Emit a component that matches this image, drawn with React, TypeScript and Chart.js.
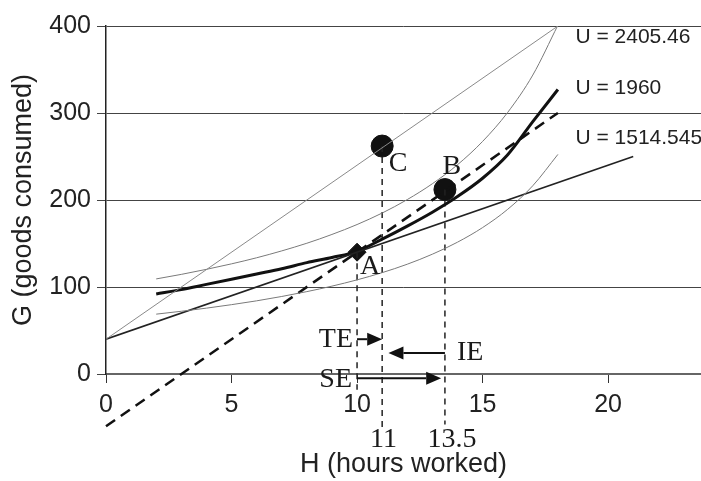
import React, { useEffect, useRef } from "react";
import { Chart, registerables } from "chart.js";

Chart.register(...registerables);

// Hours (H) at which the indifference curves are read
const hoursIC = [2, 3, 4, 5, 6, 7, 8, 9, 10, 11, 12, 13, 14, 15, 16, 17, 18];
// Indifference curves (G values)
const icHigh = [109.3, 114.5, 120.3, 126.6, 133.6, 141.5, 150.3, 160.4, 171.8, 185.0, 200.5, 218.7, 240.5, 267.3, 300.7, 343.6, 400.9];
const icMid = [92, 97, 103, 109, 115, 121, 128, 134, 141, 155, 170, 186, 204, 225, 252, 290, 327];
const icLow = [68.8, 72.1, 75.7, 79.7, 84.1, 89.1, 94.7, 101.0, 108.2, 116.5, 126.2, 137.7, 151.5, 168.3, 189.3, 216.4, 252.4];

// Budget lines
const budgetLowH = [0, 21];
const budgetLowG = [40, 250];
const budgetHighH = [0, 18];
const budgetHighG = [40, 400];
// Compensated (dashed) budget line
const compH = [0, 18];
const compG = [-60, 300];

// Points A, B, C
const pointNames = ["A", "B", "C"];
const pointH = [10, 13.5, 11];
const pointG = [140, 212, 262];

// Drop lines from the points
const dropH = [10, 13.5, 11];
const dropTopG = [140, 212, 262];
const dropBottomG = [-18, -58, -64];

// Effects arrows
const arrowNames = ["TE", "IE", "SE"];
const arrowFromH = [10, 13.5, 10];
const arrowToH = [11, 11.25, 13.35];
const arrowG = [40, 24, -5];

// Utility labels
const utilityLabels = ["U = 2405.46", "U = 1960", "U = 1514.545"];
const utilityLabelG = [387, 328, 271];

// Extra x markers
const markLabels = ["11", "13.5"];
const markH = [11.05, 13.78];

const xTickStep = 5;
const yTickStep = 100;

const SANS = "'Liberation Sans', Arial, Helvetica, sans-serif";
const SERIF = "'Liberation Serif', 'Times New Roman', serif";

const toXY = (xs: number[], ys: number[]) => xs.map((x, i) => ({ x, y: ys[i] }));

// Placement of annotation texts (data coordinates)
const letterPos = [
  { h: 10.52, g: 123 },
  { h: 13.78, g: 238 },
  { h: 11.63, g: 242 },
];
const arrowLabelPos = [
  { h: 9.84, g: 40, align: "right" },
  { h: 13.98, g: 24, align: "left" },
  { h: 9.8, g: -7, align: "right" },
];
const utilityLabelH = 18.7;
const markG = -76;

const annotationPlugin = {
  id: "annotations",
  afterDatasetsDraw(chart: any) {
    const { ctx, scales } = chart;
    const xs = scales.x;
    const ys = scales.y;
    const px = (v: number) => xs.getPixelForValue(v);
    const py = (v: number) => ys.getPixelForValue(v);
    ctx.save();
    // arrows
    ctx.strokeStyle = "#111";
    ctx.fillStyle = "#111";
    ctx.lineWidth = 2;
    for (let i = 0; i < arrowNames.length; i++) {
      const x1 = px(arrowFromH[i]);
      const x2 = px(arrowToH[i]);
      const y = py(arrowG[i]);
      const dir = x2 > x1 ? 1 : -1;
      const headL = 15;
      const headW = 6.5;
      ctx.beginPath();
      ctx.moveTo(x1, y);
      ctx.lineTo(x2 - dir * headL, y);
      ctx.stroke();
      ctx.beginPath();
      ctx.moveTo(x2, y);
      ctx.lineTo(x2 - dir * headL, y - headW);
      ctx.lineTo(x2 - dir * headL, y + headW);
      ctx.closePath();
      ctx.fill();
    }
    // serif labels
    ctx.fillStyle = "#1a1a1a";
    ctx.font = `28px ${SERIF}`;
    ctx.textBaseline = "middle";
    ctx.textAlign = "center";
    for (let i = 0; i < pointNames.length; i++) {
      ctx.fillText(pointNames[i], px(letterPos[i].h), py(letterPos[i].g));
    }
    for (let i = 0; i < arrowNames.length; i++) {
      const p = arrowLabelPos[i];
      ctx.textAlign = p.align as CanvasTextAlign;
      ctx.fillText(arrowNames[i], px(p.h), py(p.g));
    }
    ctx.textAlign = "center";
    for (let i = 0; i < markLabels.length; i++) {
      ctx.fillText(markLabels[i], px(markH[i]), py(markG));
    }
    // utility labels
    ctx.font = `21px ${SANS}`;
    ctx.textAlign = "left";
    ctx.fillStyle = "#222";
    for (let i = 0; i < utilityLabels.length; i++) {
      ctx.fillText(utilityLabels[i], px(utilityLabelH), py(utilityLabelG[i]));
    }
    ctx.restore();
  },
};

export default function App() {
  const ref = useRef<HTMLCanvasElement | null>(null);
  useEffect(() => {
    if (!ref.current) return;
    const lineDs = (data: any[], color: string, width: number, extra: any = {}) => ({
      type: "line",
      data,
      borderColor: color,
      backgroundColor: color,
      borderWidth: width,
      pointRadius: 0,
      fill: false,
      showLine: true,
      ...extra,
    });
    const datasets: any[] = [
      lineDs(toXY(budgetHighH, budgetHighG), "#8a8a8a", 1),
      lineDs(toXY(hoursIC, icHigh), "#7a7a7a", 1, { cubicInterpolationMode: "monotone" }),
      lineDs(toXY(hoursIC, icLow), "#7a7a7a", 1, { cubicInterpolationMode: "monotone" }),
      lineDs(toXY(budgetLowH, budgetLowG), "#222", 1.6),
      lineDs(toXY(hoursIC, icMid), "#111", 3, { cubicInterpolationMode: "monotone" }),
      lineDs(toXY(compH, compG), "#111", 2.5, { borderDash: [11, 7], clip: false }),
    ];
    for (let i = 0; i < dropH.length; i++) {
      datasets.push(
        lineDs(
          [
            { x: dropH[i], y: dropTopG[i] },
            { x: dropH[i], y: dropBottomG[i] },
          ],
          "#222",
          1.5,
          { borderDash: [6, 5], clip: false }
        )
      );
    }
    datasets.push({
      type: "scatter",
      data: toXY(pointH, pointG),
      pointStyle: ["rectRot", "circle", "circle"],
      pointRadius: [9, 11, 11],
      backgroundColor: "#111",
      borderColor: "#111",
      borderWidth: 1,
      showLine: false,
      clip: false,
    });

    const chart = new Chart(ref.current, {
      type: "scatter",
      data: { datasets },
      plugins: [annotationPlugin],
      options: {
        animation: false,
        responsive: true,
        maintainAspectRatio: false,
        layout: { autoPadding: false, padding: { top: 26, right: 0, bottom: 0, left: 0 } },
        plugins: {
          legend: { display: false },
          tooltip: { enabled: false },
        },
        scales: {
          x: {
            type: "linear",
            min: 0,
            max: 23.7,
            afterFit: (s: any) => {
              s.height = 107;
              s.paddingRight = 0;
              s.paddingLeft = 0;
            },
            ticks: {
              stepSize: xTickStep,
              includeBounds: false,
              font: { size: 25, family: SANS },
              color: "#222",
              padding: 7,
              maxRotation: 0,
            },
            grid: {
              drawOnChartArea: false,
              drawTicks: true,
              tickLength: 9,
              color: "#333",
            },
            border: { display: true, color: "#666", width: 2 },
            title: {
              display: true,
              text: "H (hours worked)",
              font: { size: 27, family: SANS },
              color: "#222",
              padding: { top: 0, bottom: 0 },
            },
          },
          y: {
            type: "linear",
            min: 0,
            max: 400,
            afterFit: (s: any) => {
              s.width = 106;
            },
            ticks: {
              stepSize: yTickStep,
              font: { size: 25, family: SANS },
              color: "#222",
              padding: 6,
            },
            grid: {
              drawOnChartArea: true,
              drawTicks: true,
              tickLength: 9,
              color: "#444",
              lineWidth: 1,
            },
            border: { display: true, color: "#222", width: 1.5 },
            title: {
              display: true,
              text: "G (goods consumed)",
              font: { size: 27, family: SANS },
              color: "#222",
              padding: { top: 7, bottom: 0 },
            },
          },
        },
      },
    } as any);
    return () => chart.destroy();
  }, []);
  return (
    <div style={{ position: "absolute", left: 0, top: 0, width: 701, height: 481, background: "#fff" }}>
      <canvas ref={ref} />
    </div>
  );
}
